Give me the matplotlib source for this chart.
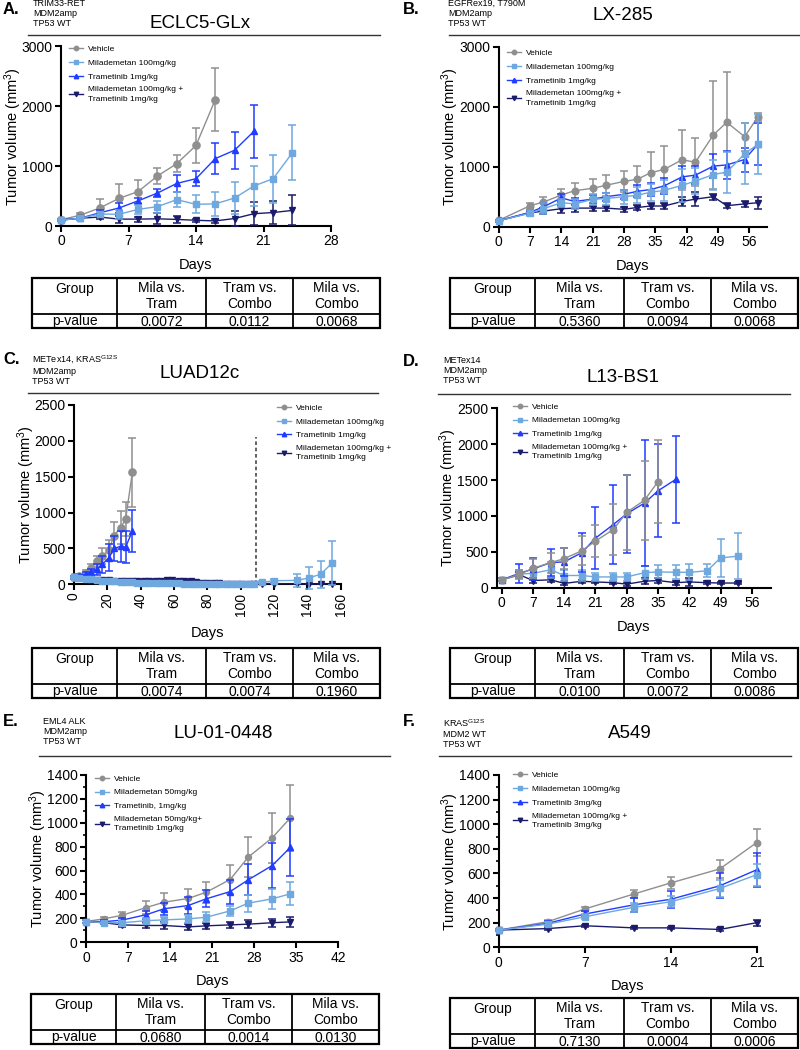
import matplotlib.pyplot as plt
from matplotlib.lines import Line2D
from matplotlib.ticker import MultipleLocator

plt.rcParams['font.family'] = ['Liberation Sans', 'DejaVu Sans']
plt.rcParams['mathtext.default'] = 'regular'

GRAY = '#8f8f8f'
LBLUE = '#6ea8de'
BLUE = '#1f3cff'
NAVY = '#1b1b6b'

# ---------------- data ----------------
# A. ECLC5-GLx
A_days_veh = [0, 2, 4, 6, 8, 10, 12, 14, 16]
A_veh = [105, 180, 300, 460, 575, 835, 1040, 1345, 2110]
A_veh_err = [20, 45, 145, 235, 190, 140, 140, 290, 520]
A_days_mila = [0, 2, 4, 6, 8, 10, 12, 14, 16, 18, 20, 22, 24]
A_mila = [100, 128, 200, 195, 278, 323, 440, 362, 370, 467, 668, 790, 1224]
A_mila_err = [15, 25, 40, 80, 70, 100, 125, 150, 205, 270, 330, 400, 460]
A_days_tram = [0, 2, 4, 6, 8, 10, 12, 14, 16, 18, 20]
A_tram = [100, 130, 220, 300, 420, 550, 710, 790, 1125, 1265, 1580]
A_tram_err = [15, 25, 40, 80, 50, 60, 135, 130, 255, 310, 440]
A_days_combo = [0, 2, 4, 6, 8, 10, 12, 14, 16, 18, 20, 22, 24]
A_combo = [100, 130, 150, 115, 115, 120, 110, 95, 85, 125, 205, 225, 260]
A_combo_err = [15, 20, 30, 60, 40, 90, 60, 30, 30, 120, 190, 190, 250]

# B. LX-285
B_days = [0, 7, 10, 14, 17, 21, 24, 28, 31, 34, 37, 41, 44, 48, 51, 55, 58]
B_veh = [105, 350, 410, 528, 600, 640, 690, 755, 790, 900, 955, 1115, 1075, 1530, 1740, 1500, 1835]
B_veh_err = [15, 50, 90, 95, 130, 155, 170, 180, 230, 350, 390, 500, 400, 900, 840, 230, 65]
B_mila = [100, 225, 300, 400, 380, 455, 470, 500, 525, 575, 605, 690, 760, 870, 910, 1215, 1375]
B_mila_err = [15, 50, 90, 70, 90, 90, 100, 120, 130, 140, 170, 280, 220, 250, 340, 510, 500]
B_tram = [100, 240, 330, 480, 420, 460, 500, 540, 590, 620, 680, 830, 860, 1010, 1030, 1120, 1380]
B_tram_err = [15, 40, 60, 60, 60, 70, 70, 80, 100, 110, 130, 180, 150, 200, 230, 200, 350]
B_combo = [100, 230, 260, 300, 310, 310, 310, 290, 320, 345, 345, 420, 460, 500, 350, 380, 400]
B_combo_err = [15, 40, 50, 70, 70, 40, 40, 40, 40, 50, 50, 80, 120, 50, 40, 50, 100]

# C. LUAD12c
C_days_early = [0, 3, 7, 10, 14, 17, 21, 24, 28, 31, 35]
C_veh = [100, 120, 160, 230, 320, 390, 480, 680, 790, 910, 1560]
C_veh_err = [20, 30, 40, 60, 80, 110, 140, 190, 235, 235, 480]
C_tram = [100, 110, 140, 170, 210, 280, 370, 500, 530, 520, 740]
C_tram_err = [20, 25, 30, 50, 80, 120, 190, 170, 220, 220, 290]
C_days_long = [0, 3, 7, 10, 14, 17, 21, 24, 28, 31, 35, 38, 42, 45, 49, 52, 56, 59,
               63, 66, 70, 73, 77, 80, 84, 87, 91, 94, 98, 101, 105, 108,
               113, 120, 134, 141, 148, 155]
C_mila = [100, 90, 80, 70, 60, 50, 45, 40, 35, 30, 28, 25, 22, 20, 18, 16, 15, 14,
          12, 10, 10, 9, 8, 8, 7, 6, 6, 5, 5, 5, 5, 5,
          28, 50, 55, 90, 140, 300]
C_mila_err = [20, 20, 15, 15, 15, 12, 10, 10, 10, 8, 8, 8, 6, 6, 6, 5, 5, 5,
              5, 5, 5, 5, 5, 5, 5, 5, 5, 5, 5, 5, 5, 5,
              15, 30, 90, 150, 190, 310]
C_combo = [100, 95, 85, 75, 65, 60, 55, 50, 45, 45, 45, 45, 45, 45, 50, 50, 55, 55,
           50, 50, 45, 35, 25, 20, 15, 12, 10, 8, 8, 8, 8, 8,
           10, 10, 5, 5, 5, 5]
C_combo_err = [20, 20, 15, 15, 15, 12, 10, 10, 10, 10, 10, 10, 10, 10, 10, 10, 10, 10,
               10, 10, 10, 10, 8, 8, 6, 6, 5, 5, 5, 5, 5, 5,
               5, 5, 5, 5, 5, 5]
C_dashed_day = 109
C_dashed_top = 2060

# D. L13-BS1
D_days_veh = [0, 4, 7, 11, 14, 18, 21, 25, 28, 32, 35]
D_veh = [110, 186, 270, 350, 405, 516, 650, 810, 1050, 1220, 1478]
D_veh_err = [20, 60, 130, 140, 150, 200, 220, 360, 520, 550, 580]
D_days_tram = [0, 4, 7, 11, 14, 18, 21, 25, 28, 32, 35, 39]
D_tram = [110, 200, 260, 350, 360, 490, 690, 880, 1030, 1180, 1350, 1510]
D_tram_err = [20, 130, 150, 190, 190, 270, 430, 550, 540, 880, 650, 610]
D_days = [0, 4, 7, 11, 14, 18, 21, 25, 28, 32, 35, 39, 42, 46, 49, 53]
D_mila = [110, 190, 200, 250, 170, 170, 150, 150, 150, 210, 220, 215, 215, 235, 415, 440]
D_mila_err = [20, 60, 80, 110, 80, 70, 60, 50, 50, 90, 90, 100, 110, 90, 270, 320]
D_combo = [110, 180, 100, 110, 60, 90, 80, 70, 50, 90, 100, 70, 80, 70, 65, 65]
D_combo_err = [20, 40, 30, 30, 20, 20, 20, 20, 20, 40, 30, 30, 50, 20, 15, 15]

# E. LU-01-0448
E_days = [0, 3, 6, 10, 13, 17, 20, 24, 27, 31, 34]
E_veh = [173, 196, 225, 290, 335, 366, 418, 525, 712, 874, 1040]
E_veh_err = [10, 15, 26, 56, 75, 80, 90, 120, 165, 210, 280]
E_tram = [173, 172, 185, 230, 280, 307, 363, 424, 522, 642, 793]
E_tram_err = [10, 10, 20, 35, 50, 70, 70, 100, 130, 190, 240]
E_mila = [173, 163, 163, 180, 187, 195, 209, 262, 327, 363, 405]
E_mila_err = [10, 10, 15, 25, 25, 35, 40, 45, 70, 85, 95]
E_combo = [173, 163, 145, 140, 140, 128, 137, 145, 151, 163, 170]
E_combo_err = [10, 10, 15, 25, 30, 25, 25, 25, 35, 35, 40]

# F. A549
F_days = [0, 4, 7, 11, 14, 18, 21]
F_veh = [140, 208, 311, 433, 523, 637, 851]
F_veh_err = [10, 15, 15, 35, 50, 75, 108]
F_tram = [140, 195, 270, 345, 390, 500, 630]
F_tram_err = [10, 15, 25, 55, 70, 100, 140]
F_mila = [140, 188, 248, 325, 370, 478, 590]
F_mila_err = [10, 15, 20, 35, 45, 70, 90]
F_combo = [140, 152, 175, 158, 158, 145, 200]
F_combo_err = [5, 10, 10, 10, 10, 10, 25]

# texts
letters = ['A.', 'B.', 'C.', 'D.', 'E.', 'F.']
titles = ['ECLC5-GLx', 'LX-285', 'LUAD12c', 'L13-BS1', 'LU-01-0448', 'A549']
genotypes = [
    'TRIM33-RET\nMDM2amp\nTP53 WT',
    'EGFRex19, T790M\nMDM2amp\nTP53 WT',
    'METex14, KRAS$^{G12S}$\nMDM2amp\nTP53 WT',
    'METex14\nMDM2amp\nTP53 WT',
    'EML4 ALK\nMDM2amp\nTP53 WT',
    'KRAS$^{G12S}$\nMDM2 WT\nTP53 WT',
]
legend_std = ['Vehicle', 'Milademetan 100mg/kg', 'Trametinib 1mg/kg',
              'Milademetan 100mg/kg +\nTrametinib 1mg/kg']
legend_E = ['Vehicle', 'Milademetan 50mg/kg', 'Trametinib, 1mg/kg',
            'Milademetan 50mg/kg+\nTrametinib 1mg/kg']
legend_F = ['Vehicle', 'Milademetan 100mg/kg', 'Trametinib 3mg/kg',
            'Milademetan 100mg/kg +\nTrametinib 3mg/kg']
table_header = ['Group', 'Mila vs.\nTram', 'Tram vs.\nCombo', 'Mila vs.\nCombo']
table_row = 'p-value'
pvalues = [
    ['0.0072', '0.0112', '0.0068'],
    ['0.5360', '0.0094', '0.0068'],
    ['0.0074', '0.0074', '0.1960'],
    ['0.0100', '0.0072', '0.0086'],
    ['0.0680', '0.0014', '0.0130'],
    ['0.7130', '0.0004', '0.0006'],
]

# ---------------- layout helpers ----------------
W, H = 800, 1050
fig = plt.figure(figsize=(8, 10.5), dpi=100)


def rect(l, t, r, b):
    return [l / W, 1 - b / H, (r - l) / W, (b - t) / H]


def fx(x):
    return x / W


def fy(y):
    return 1 - y / H


def header(letter_xy, geno_xy, title_xy, line_y, line_x, letter, geno, title):
    fig.text(fx(letter_xy[0]), fy(letter_xy[1]), letter, fontsize=12,
             fontweight='bold', va='center', ha='left')
    fig.text(fx(geno_xy[0]), fy(geno_xy[1]), geno, fontsize=6.5,
             va='top', ha='left', linespacing=1.15)
    fig.text(fx(title_xy[0]), fy(title_xy[1]), title, fontsize=13.5,
             va='center', ha='center')
    fig.add_artist(Line2D([fx(line_x[0]), fx(line_x[1])], [fy(line_y), fy(line_y)],
                          transform=fig.transFigure, color='#333333', lw=1))


def series(ax, x, y, e, color, marker, ms, z):
    ax.errorbar(x, y, yerr=e, fmt='-', marker=marker, color=color, ms=ms,
                lw=1, elinewidth=1.1, capsize=2.6, capthick=1.1,
                clip_on=False, zorder=z)


def style(ax, xlim, xstep, ylim, ystep, yminor=None, rot=0):
    ax.set_xlim(*xlim)
    ax.set_ylim(*ylim)
    ax.xaxis.set_major_locator(MultipleLocator(xstep))
    ax.yaxis.set_major_locator(MultipleLocator(ystep))
    if yminor:
        ax.yaxis.set_minor_locator(MultipleLocator(yminor))
    for s in ['top', 'right']:
        ax.spines[s].set_visible(False)
    for s in ['left', 'bottom']:
        ax.spines[s].set_linewidth(1.5)
    ax.tick_params(which='major', direction='out', length=4, width=1.5,
                   labelsize=10, pad=2)
    ax.tick_params(which='minor', direction='out', length=2.5, width=1.2)
    ax.set_facecolor('none')
    ax.set_xlabel('Days', fontsize=10.5, labelpad=7)
    ax.set_ylabel('Tumor volume (mm$^3$)', fontsize=10.5, labelpad=-1.5)
    if rot:
        for lab in ax.get_xticklabels():
            lab.set_rotation(rot)


def legend(ax, labels, anchor, ms):
    hs = [Line2D([], [], color=GRAY, marker='o', ms=ms, lw=1),
          Line2D([], [], color=LBLUE, marker='s', ms=ms, lw=1),
          Line2D([], [], color=BLUE, marker='^', ms=ms, lw=1),
          Line2D([], [], color=NAVY, marker='v', ms=ms, lw=1)]
    leg = ax.legend(hs, labels, loc='upper left', bbox_to_anchor=anchor, frameon=False,
                    fontsize=6, handlelength=1.7, handletextpad=0.6, labelspacing=0.7,
                    borderaxespad=0, borderpad=0)
    for t in leg.get_texts():
        t.set_linespacing(1.45)


def table(l, t, r, b, vals):
    tax = fig.add_axes(rect(l, t, r, b))
    w, h = r - l, b - t
    tax.set_xlim(0, w)
    tax.set_ylim(h, 0)
    tax.axis('off')
    cols = [0, 0.245 * w, 0.5 * w, 0.75 * w, w]
    split = 0.72 * h
    tax.add_patch(plt.Rectangle((0, 0), w, h, fill=False, lw=1.6, ec='black', clip_on=False))
    tax.plot([0, w], [split, split], color='black', lw=1.3, clip_on=False)
    for c in cols[1:-1]:
        tax.plot([c, c], [0, h], color='black', lw=1.3, clip_on=False)
    for i, txt in enumerate(table_header):
        cx = (cols[i] + cols[i + 1]) / 2
        tax.text(cx, 3.5, txt, ha='center', va='top', fontsize=10, linespacing=1.12)
    tax.text((cols[0] + cols[1]) / 2, (split + h) / 2 + 0.5, table_row,
             ha='center', va='center', fontsize=10)
    for i, v in enumerate(vals):
        cx = (cols[i + 1] + cols[i + 2]) / 2
        tax.text(cx, (split + h) / 2 + 0.5, v, ha='center', va='center', fontsize=10)


# ---------------- Panel A ----------------
header((3, 9), (33, -1), (200, 24), 35, (28, 380), letters[0], genotypes[0], titles[0])
ax = fig.add_axes(rect(61, 46.3, 331, 226))
series(ax, A_days_veh, A_veh, A_veh_err, GRAY, 'o', 5.2, 3)
series(ax, A_days_combo, A_combo, A_combo_err, NAVY, 'v', 4.8, 4)
series(ax, A_days_tram, A_tram, A_tram_err, BLUE, '^', 4.8, 5)
series(ax, A_days_mila, A_mila, A_mila_err, LBLUE, 's', 5.0, 6)
style(ax, (0, 28), 7, (0, 3000), 1000)
legend(ax, legend_std, (0.03, 1.005), 3.2)
table(32, 278, 380, 328, pvalues[0])

# ---------------- Panel B ----------------
header((403, 9), (448, -1), (623, 15), 35, (449, 800), letters[1], genotypes[1], titles[1])
ax = fig.add_axes(rect(498.7, 46.7, 767, 226.7))
series(ax, B_days, B_veh, B_veh_err, GRAY, 'o', 4.8, 3)
series(ax, B_days, B_combo, B_combo_err, NAVY, 'v', 4.5, 4)
series(ax, B_days, B_tram, B_tram_err, BLUE, '^', 4.5, 5)
series(ax, B_days, B_mila, B_mila_err, LBLUE, 's', 4.8, 6)
style(ax, (0, 60), 7, (0, 3000), 1000)
legend(ax, legend_std, (0.03, 0.985), 3.2)
table(450, 278, 798, 328, pvalues[1])

# ---------------- Panel C ----------------
header((3, 360), (32, 354), (200, 373), 393, (28, 378), letters[2], genotypes[2], titles[2])
ax = fig.add_axes(rect(74, 405, 340.7, 584.3))
ax.plot([C_dashed_day, C_dashed_day], [0, C_dashed_top], color='#555555',
        lw=1.3, ls=(0, (2, 1.5)), zorder=2)
series(ax, C_days_early, C_veh, C_veh_err, GRAY, 'o', 5.2, 3)
series(ax, C_days_long, C_combo, C_combo_err, NAVY, 'v', 4.6, 4)
series(ax, C_days_early, C_tram, C_tram_err, BLUE, '^', 4.6, 5)
series(ax, C_days_long, C_mila, C_mila_err, LBLUE, 's', 4.8, 6)
style(ax, (0, 160), 20, (0, 2500), 500, rot=90)
legend(ax, legend_std, (0.76, 1.005), 3.2)
table(32, 648, 380, 698, pvalues[2])

# ---------------- Panel D ----------------
header((403, 361), (443, 356), (623, 377), 394, (438, 790), letters[3], genotypes[3], titles[3])
ax = fig.add_axes(rect(496.7, 408.3, 771, 587.7))
series(ax, D_days_veh, D_veh, D_veh_err, GRAY, 'o', 4.8, 6)
series(ax, D_days, D_combo, D_combo_err, NAVY, 'v', 4.4, 3)
series(ax, D_days_tram, D_tram, D_tram_err, BLUE, '^', 4.4, 5)
series(ax, D_days, D_mila, D_mila_err, LBLUE, 's', 4.6, 4)
style(ax, (-1.1, 60.3), 7, (0, 2500), 500)
ax.set_xticks(range(0, 57, 7))
legend(ax, legend_std, (0.06, 1.03), 3.2)
table(450, 648, 798, 698, pvalues[3])

# ---------------- Panel E ----------------
header((3, 721), (43, 717), (223, 733), 756, (39, 390), letters[4], genotypes[4], titles[4])
ax = fig.add_axes(rect(86, 775, 338.3, 942.2))
series(ax, E_days, E_veh, E_veh_err, GRAY, 'o', 4.3, 3)
series(ax, E_days, E_combo, E_combo_err, NAVY, 'v', 4.2, 4)
series(ax, E_days, E_tram, E_tram_err, BLUE, '^', 4.2, 5)
series(ax, E_days, E_mila, E_mila_err, LBLUE, 's', 4.4, 6)
style(ax, (0, 42), 7, (0, 1400), 200, yminor=100)
legend(ax, legend_E, (0.035, 1.0), 3.2)
table(31, 994, 379, 1044, pvalues[4])

# ---------------- Panel F ----------------
header((403, 722), (443, 717), (630, 733), 756, (439, 791), letters[5], genotypes[5], titles[5])
ax = fig.add_axes(rect(498.7, 775, 756.7, 947.3))
series(ax, F_days, F_veh, F_veh_err, GRAY, 'o', 4.6, 3)
series(ax, F_days, F_combo, F_combo_err, NAVY, 'v', 4.4, 4)
series(ax, F_days, F_tram, F_tram_err, BLUE, '^', 4.4, 5)
series(ax, F_days, F_mila, F_mila_err, LBLUE, 's', 4.6, 6)
style(ax, (0, 21), 7, (0, 1400), 200, yminor=100)
legend(ax, legend_F, (0.055, 1.02), 3.2)
table(450, 998, 798, 1048, pvalues[5])

fig.savefig('out.png', dpi=100)
